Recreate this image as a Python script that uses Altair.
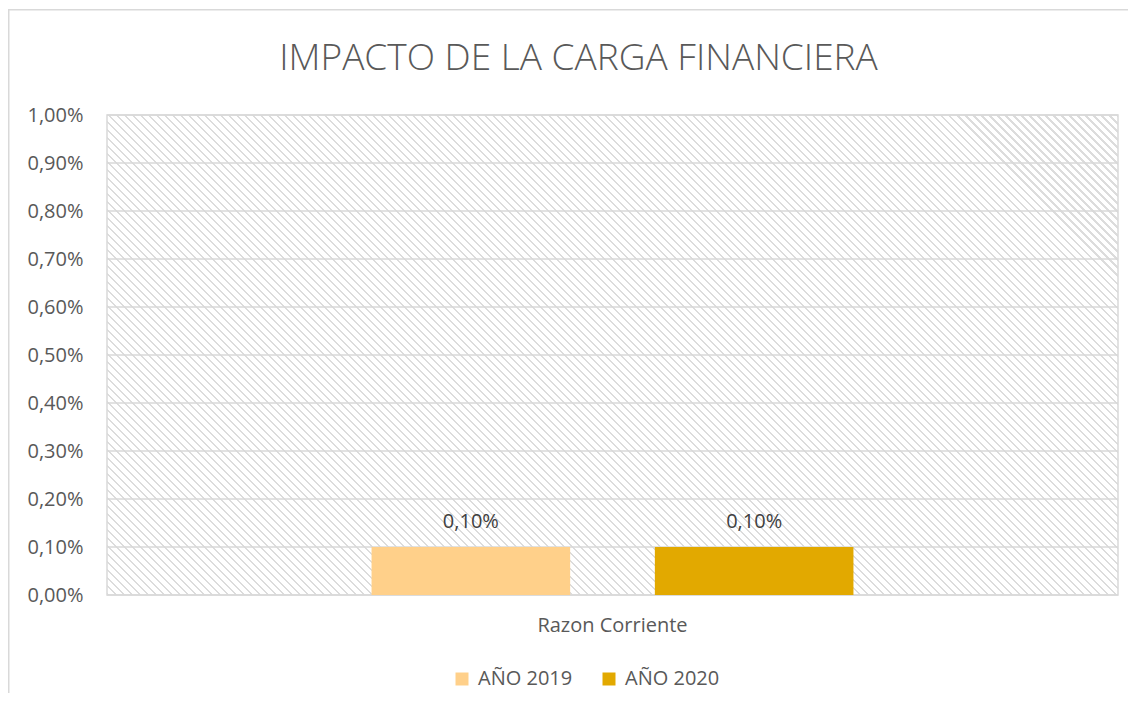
import math
import altair as alt
import pandas as pd

# ---------------- data ----------------
TITLE = "IMPACTO DE LA CARGA FINANCIERA"
CATEGORIES = ["Razon Corriente"]
SERIES = ["AÑO 2019", "AÑO 2020"]
VALUES_2019 = [0.001]
VALUES_2020 = [0.001]
COLORS = ["#FFD08A", "#E2A900"]
Y_TICKS = [0.0, 0.001, 0.002, 0.003, 0.004, 0.005, 0.006, 0.007, 0.008, 0.009, 0.010]

rows = []
for i, cat in enumerate(CATEGORIES):
    rows.append({"cat": cat, "serie": SERIES[0], "valor": VALUES_2019[i]})
    rows.append({"cat": cat, "serie": SERIES[1], "valor": VALUES_2020[i]})
df = pd.DataFrame(rows)
grid_df = pd.DataFrame({"v": Y_TICKS})
one = pd.DataFrame({"t": [TITLE]})

# ---------------- layout constants ----------------
W, H = 1011, 480
FONT = "Open Sans"
GRID = "#d9d9d9"
HATCH = "#dcdcdc"
TXT = "#595959"

# diagonal hatch ("\" direction) built as a striped linear gradient (svg: bbox units)
k = 1.25
L = k * (W + H * H / W) / math.sqrt(2)
period = 5.66
lw = 1.6
stops = []
t = 0.0
while t < 1.0:
    a = round(min(t, 1.0), 6)
    b = round(min(t + lw / L, 1.0), 6)
    c = round(min(t + period / L, 1.0), 6)
    stops += [
        {"offset": a, "color": HATCH},
        {"offset": b, "color": HATCH},
        {"offset": b, "color": "#ffffff"},
        {"offset": c, "color": "#ffffff"},
    ]
    t += period / L
hatch = {
    "gradient": "linear",
    "x1": 0, "y1": 1,
    "x2": k, "y2": 1 - k * H / W,
    "stops": stops,
}

y_scale = alt.Scale(domain=[0, 0.01], nice=False, zero=True)
x_scale = alt.Scale(paddingInner=0, paddingOuter=0.549)
off_scale = alt.Scale(domain=SERIES, paddingInner=0.299, paddingOuter=0)

# outer chart-area border
border = alt.Chart(one).mark_rect(
    fill="#ffffff", fillOpacity=0, stroke=GRID, strokeWidth=1.5
).encode(
    x=alt.value(-98.25), x2=alt.value(W + 60),
    y=alt.value(-105.25), y2=alt.value(H + 300),
)

# plot-area background with hatch
bg = alt.Chart(one).mark_rect(
    fill=hatch, stroke=GRID, strokeWidth=1.5
).encode(
    x=alt.value(0), x2=alt.value(W), y=alt.value(0), y2=alt.value(H)
)

grid = alt.Chart(grid_df).mark_rule(color=GRID, strokeWidth=1.4).encode(
    y=alt.Y("v:Q", scale=y_scale, axis=alt.Axis(
        values=Y_TICKS, labelExpr="replace(format(datum.value, '.2%'), '.', ',')",
        grid=False, domain=False, ticks=False, tickSize=0, labelPadding=24,
        labelFont=FONT, labelFontSize=20, labelColor=TXT, title=None,
    )),
    x=alt.value(0), x2=alt.value(W),
)

bars = alt.Chart(df).mark_bar().encode(
    x=alt.X("cat:N", scale=x_scale, sort=CATEGORIES, axis=alt.Axis(
        domain=False, ticks=False, tickSize=0, grid=False, labelAngle=0,
        labelPadding=20, labelFont=FONT, labelFontSize=20, labelColor=TXT, title=None,
    )),
    xOffset=alt.XOffset("serie:N", scale=off_scale, sort=SERIES),
    y=alt.Y("valor:Q", scale=y_scale),
    color=alt.Color("serie:N", sort=SERIES,
                    scale=alt.Scale(domain=SERIES, range=COLORS),
                    legend=alt.Legend(
                        orient="none", legendX=345, legendY=554, direction="horizontal",
                        title=None, symbolType="square", symbolSize=169,
                        symbolStrokeWidth=0, labelFont=FONT, labelFontSize=20,
                        labelColor=TXT, columnPadding=26, labelOffset=6, padding=0,
                    )),
)

labels = alt.Chart(df).transform_calculate(
    lab="replace(format(datum.valor, '.2%'), '.', ',')"
).mark_text(
    font=FONT, fontSize=20, color="#404040", baseline="alphabetic", dy=-19
).encode(
    x=alt.X("cat:N", scale=x_scale, sort=CATEGORIES),
    xOffset=alt.XOffset("serie:N", scale=off_scale, sort=SERIES),
    y=alt.Y("valor:Q", scale=y_scale),
    text="lab:N",
)

title = alt.Chart(one).mark_text(
    font=FONT, fontSize=37, fontWeight=300, color=TXT, align="center", baseline="alphabetic"
).encode(
    x=alt.value(471.5), y=alt.value(-45.5), text="t:N"
)

chart = alt.layer(border, bg, grid, bars, labels, title).properties(
    width=W, height=H,
    autosize=alt.AutoSizeParams(type="none"),
    padding={"left": 99, "top": 107, "right": 10, "bottom": 98},
    background="#ffffff",
).configure_view(strokeWidth=0)

chart.save("out.html", embed_options={"renderer": "svg", "actions": False})
